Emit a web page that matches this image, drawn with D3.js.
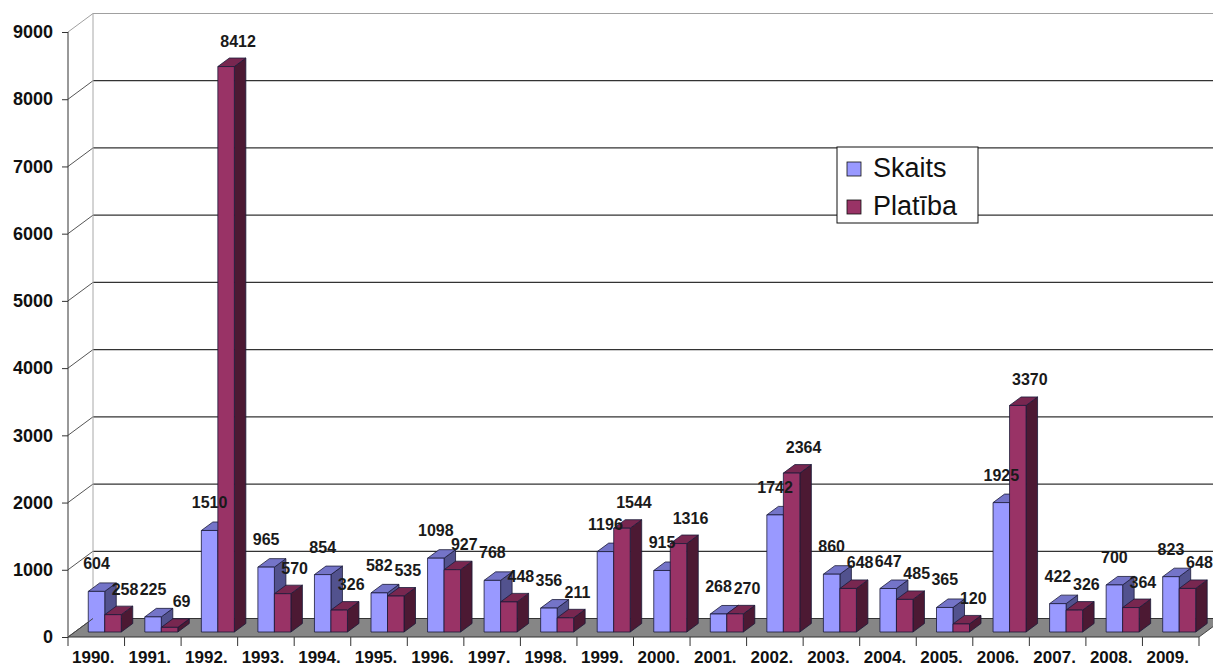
<!DOCTYPE html>
<html>
<head>
<meta charset="utf-8">
<script src="https://cdn.jsdelivr.net/npm/d3@7"></script>
<style>
  html, body { margin: 0; padding: 0; background: #fff; }
  svg { display: block; font-family: Arial, "Liberation Sans", sans-serif; }
</style>
</head>
<body>
<svg id="chart" width="1213" height="668"></svg>
<script>
// Yearly figures: count (Skaits) and area (Platība)
const years = ["1990.", "1991.", "1992.", "1993.", "1994.", "1995.", "1996.", "1997.", "1998.", "1999.",
               "2000.", "2001.", "2002.", "2003.", "2004.", "2005.", "2006.", "2007.", "2008.", "2009."];
const skaits  = [604, 225, 1510, 965, 854, 582, 1098, 768, 356, 1196, 915, 268, 1742, 860, 647, 365, 1925, 422, 700, 823];
const platiba = [258, 69, 8412, 570, 326, 535, 927, 448, 211, 1544, 1316, 270, 2364, 648, 485, 120, 3370, 326, 364, 648];
const seriesNames = ["Skaits", "Platība"];
const yTicks = [0, 1000, 2000, 3000, 4000, 5000, 6000, 7000, 8000, 9000];

const series = [
  { name: seriesNames[0], values: skaits,  front: "#9999ff", top: "#7474c8", side: "#52528e" },
  { name: seriesNames[1], values: platiba, front: "#993366", top: "#782750", side: "#4c1933" }
];

const svg = d3.select("#chart");

// Front plane scales
const x = d3.scaleBand().domain(years).range([68, 1199]).padding(0);
const y = d3.scaleLinear().domain([0, 9000]).range([637, 32]);
const inner = d3.scaleBand().domain(seriesNames).range([13.5, 46.5]).padding(0);

// Oblique depth projection (full depth of the floor)
const DX = 25, DY = -18.5;
const proj = (px, py, d) => [px + d * DX, py + d * DY];
const barD0 = 0.27, barD1 = 0.73;

const xEnd = 1199;
const poly = pts => pts.map(p => p.join(",")).join(" ");

// Floor
svg.append("polygon")
  .attr("points", poly([[x.range()[0], y(0)], [xEnd, y(0)], proj(xEnd, y(0), 1), proj(x.range()[0], y(0), 1)]))
  .attr("fill", "#868686");

// Back wall gridlines and side-wall diagonals
const grid = svg.append("g");
yTicks.forEach(t => {
  const top = t === yTicks[yTicks.length - 1];
  const col = top ? "#a0a0a0" : "#333";
  const b0 = proj(x.range()[0], y(t), 1);
  grid.append("line")
    .attr("x1", b0[0]).attr("y1", b0[1]).attr("x2", 1240).attr("y2", b0[1])
    .attr("stroke", col).attr("stroke-width", 1.2);
  grid.append("line")
    .attr("x1", x.range()[0]).attr("y1", y(t)).attr("x2", b0[0]).attr("y2", b0[1])
    .attr("stroke", top ? "#a0a0a0" : "#555").attr("stroke-width", 1);
});
// Back wall left edge
{
  const a = proj(x.range()[0], y(0), 1), b = proj(x.range()[0], y(9000), 1);
  grid.append("line").attr("x1", a[0]).attr("y1", a[1]).attr("x2", b[0]).attr("y2", b[1])
    .attr("stroke", "#a8a8a8").attr("stroke-width", 1);
}

// 3D bars
const bars = svg.append("g").attr("stroke", "#1b1b38").attr("stroke-width", 0.8).attr("stroke-linejoin", "round");
const labelData = [];
years.forEach((yr, i) => {
  series.forEach((s, si) => {
    const v = s.values[i];
    const x0 = x(yr) + inner(s.name);
    const x1 = x0 + inner.bandwidth();
    const [fx0, fb] = proj(x0, y(0), barD0);
    const [fx1] = proj(x1, y(0), barD0);
    const ft = proj(x0, y(v), barD0)[1];
    const sdx = (barD1 - barD0) * DX, sdy = (barD1 - barD0) * DY;
    // side face
    bars.append("polygon")
      .attr("points", poly([[fx1, fb], [fx1 + sdx, fb + sdy], [fx1 + sdx, ft + sdy], [fx1, ft]]))
      .attr("fill", s.side);
    // top face
    bars.append("polygon")
      .attr("points", poly([[fx0, ft], [fx1, ft], [fx1 + sdx, ft + sdy], [fx0 + sdx, ft + sdy]]))
      .attr("fill", s.top);
    // front face
    bars.append("rect")
      .attr("x", fx0).attr("y", ft).attr("width", fx1 - fx0).attr("height", fb - ft)
      .attr("fill", s.front);
    labelData.push({
      v,
      cx: (fx0 + fx1) / 2 + (si === 0 ? 0 : 12),
      by: ft - (si === 0 ? 22 : 20)
    });
  });
});

// Y axis (front)
const yAxis = d3.axisLeft(y).tickValues(yTicks).tickSize(6).tickPadding(9).tickFormat(d3.format("d"));
const gy = svg.append("g").attr("transform", `translate(${x.range()[0]},0)`).call(yAxis);
gy.select(".domain").attr("stroke", "#333").attr("d", `M-0,${y(9000)}V${y(0)}`);
gy.selectAll(".tick line").attr("stroke", "#333");
gy.selectAll(".tick text")
  .attr("font-size", 18).attr("font-weight", "bold").attr("fill", "#111")
  .attr("font-family", "Arial, 'Liberation Sans', sans-serif");

// X axis (front edge of floor)
const gx = svg.append("g");
gx.append("line").attr("x1", x.range()[0]).attr("x2", xEnd).attr("y1", y(0)).attr("y2", y(0))
  .attr("stroke", "#333").attr("stroke-width", 1.2);
// floor side edges
{
  const b = proj(x.range()[0], y(0), 1);
  gx.append("line").attr("x1", x.range()[0]).attr("y1", y(0)).attr("x2", b[0]).attr("y2", b[1])
    .attr("stroke", "#444");
  const r = proj(xEnd, y(0), 1);
  gx.append("line").attr("x1", xEnd).attr("y1", y(0)).attr("x2", r[0]).attr("y2", r[1])
    .attr("stroke", "#444");
}
const boundaries = years.map(d => x(d)).concat([xEnd]);
gx.selectAll("line.tk").data(boundaries).join("line").attr("class", "tk")
  .attr("x1", d => d).attr("x2", d => d).attr("y1", y(0)).attr("y2", y(0) + 9)
  .attr("stroke", "#333");
gx.selectAll("text").data(years).join("text")
  .attr("x", d => x(d) + x.bandwidth() / 2 - 3)
  .attr("y", 663)
  .attr("text-anchor", "middle")
  .attr("font-size", 17).attr("font-weight", "bold").attr("fill", "#111")
  .text(d => d);

// Data labels
svg.append("g").selectAll("text").data(labelData).join("text")
  .attr("x", d => d.cx).attr("y", d => d.by)
  .attr("text-anchor", "middle")
  .attr("font-size", 16).attr("font-weight", "bold").attr("fill", "#1a1a1a")
  .text(d => d.v);

// Legend
const lg = svg.append("g").attr("transform", "translate(837,147)");
lg.append("rect").attr("width", 141).attr("height", 76).attr("fill", "#fff").attr("stroke", "#111").attr("stroke-width", 1);
series.forEach((s, i) => {
  const row = lg.append("g").attr("transform", `translate(0,${i * 38})`);
  row.append("rect").attr("x", 10).attr("y", 15).attr("width", 14).attr("height", 14)
    .attr("fill", s.front).attr("stroke", "#111").attr("stroke-width", 0.8);
  row.append("text").attr("x", 36).attr("y", 30)
    .attr("font-size", 27).attr("fill", "#111").text(s.name);
});
</script>
</body>
</html>
